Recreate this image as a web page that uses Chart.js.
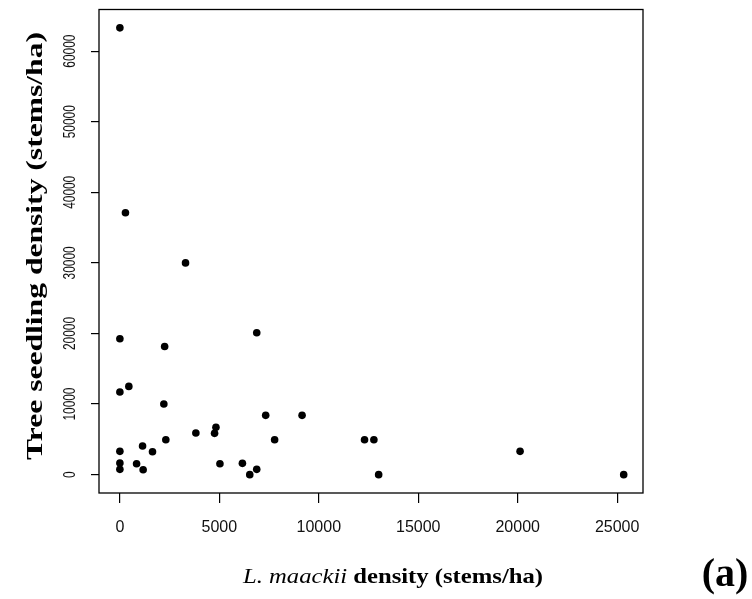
<!DOCTYPE html>
<html>
<head>
<meta charset="utf-8">
<script src="https://cdn.jsdelivr.net/npm/chart.js@4"></script>
<style>
  html, body { margin: 0; padding: 0; background: #fff; }
  #wrap { width: 752px; height: 599px; }
</style>
</head>
<body>
<div id="wrap"><canvas id="scatter"></canvas></div>
<script>
// L. maackii density (stems/ha)
const maackiiDensity = [0, 280, 3300, 6880, 0, 2250, 450, 0, 2210, 7330, 9160, 4830, 4760, 3820, 2310, 7780,
    12300, 12770, 1140, 1640, 0, 20120, 0, 840, 5030, 6160, 0, 1170, 6880, 6530, 13010, 25330];
// Tree seedling density (stems/ha)
const seedlingDensity = [63300, 37100, 30000, 20100, 19250, 18150, 12500, 11700, 10000, 8400, 8400, 6700, 5850, 5900, 4950, 4950,
    4950, 4950, 4050, 3250, 3300, 3300, 1650, 1550, 1550, 1600, 750, 700, 750, 0, 0, 0];

const xTicks = [0, 5000, 10000, 15000, 20000, 25000];
const yTicks = [0, 10000, 20000, 30000, 40000, 50000, 60000];

// draws the box, the rotated y tick labels and the titles
const frame = {
    id: 'frame',
    afterDraw(chart) {
        const { ctx, chartArea: a } = chart;
        const y = chart.scales.y;
        ctx.save();
        ctx.strokeStyle = '#000';
        ctx.lineWidth = 1.3;
        ctx.strokeRect(a.left, a.top, a.right - a.left, a.bottom - a.top);

        ctx.fillStyle = '#111';
        ctx.font = '17px "Liberation Sans", Arial, sans-serif';
        ctx.textAlign = 'center';
        ctx.textBaseline = 'middle';
        yTicks.forEach(v => {
            ctx.save();
            ctx.translate(70, y.getPixelForValue(v));
            ctx.rotate(-Math.PI / 2);
            ctx.scale(0.7, 1);
            ctx.fillText(String(v), 0, 0);
            ctx.restore();
        });

        // y title
        ctx.fillStyle = '#000';
        ctx.font = 'bold 24px "Liberation Serif", "Times New Roman", serif';
        const yt = 'Tree seedling density (stems/ha)';
        const ys = 428 / ctx.measureText(yt).width;
        ctx.save();
        ctx.translate(36, 246);
        ctx.rotate(-Math.PI / 2);
        ctx.scale(ys, 1);
        ctx.fillText(yt, 0, 0);
        ctx.restore();

        // x title, italic species name + bold rest
        const p1 = 'L. maackii ', p2 = 'density (stems/ha)';
        const f1 = 'italic 22px "Liberation Serif", "Times New Roman", serif';
        const f2 = 'bold 22px "Liberation Serif", "Times New Roman", serif';
        ctx.font = f1; const w1 = ctx.measureText(p1).width;
        ctx.font = f2; const w2 = ctx.measureText(p2).width;
        const xs = 300 / (w1 + w2);
        ctx.save();
        ctx.translate(243, 583);
        ctx.scale(xs, 1);
        ctx.textAlign = 'left';
        ctx.textBaseline = 'alphabetic';
        ctx.font = f1; ctx.fillText(p1, 0, 0);
        ctx.font = f2; ctx.fillText(p2, w1, 0);
        ctx.restore();

        ctx.font = 'bold 40px "Liberation Serif", "Times New Roman", serif';
        ctx.textAlign = 'center';
        ctx.textBaseline = 'alphabetic';
        ctx.fillText('(a)', 725, 586);
        ctx.restore();
    }
};

new Chart(document.getElementById('scatter'), {
    type: 'scatter',
    data: {
        datasets: [{
            data: maackiiDensity.map((x, i) => ({ x: x, y: seedlingDensity[i] })),
            backgroundColor: '#000',
            borderWidth: 0,
            pointRadius: 3.8,
            pointHoverRadius: 3.8
        }]
    },
    options: {
        responsive: true,
        maintainAspectRatio: false,
        animation: false,
        layout: { padding: { top: 9.5, right: 109, left: 0, bottom: 0 } },
        plugins: { legend: { display: false }, tooltip: { enabled: false } },
        scales: {
            x: {
                type: 'linear',
                min: -1050,
                max: 26300,
                afterBuildTicks: s => { s.ticks = xTicks.map(v => ({ value: v })); },
                afterFit: s => { s.height = 106; },
                border: { display: false },
                grid: { drawOnChartArea: false, drawTicks: true, tickLength: 10, color: '#000', lineWidth: 1.2 },
                ticks: {
                    color: '#111',
                    padding: 15,
                    maxRotation: 0,
                    font: { family: '"Liberation Sans", Arial, sans-serif', size: 16 },
                    callback: v => String(v)
                }
            },
            y: {
                type: 'linear',
                min: -2600,
                max: 65900,
                afterBuildTicks: s => { s.ticks = yTicks.map(v => ({ value: v })); },
                afterFit: s => { s.width = 99; },
                border: { display: false },
                grid: { drawOnChartArea: false, drawTicks: true, tickLength: 8, color: '#000', lineWidth: 1.2 },
                ticks: { display: false }
            }
        }
    },
    plugins: [frame]
});
</script>
</body>
</html>
